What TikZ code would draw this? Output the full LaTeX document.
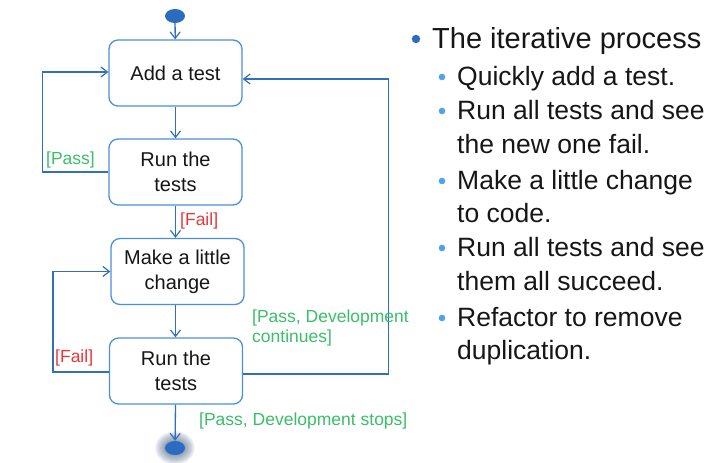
\documentclass[tikz,border=0pt]{standalone}
\usepackage{fontspec}
\setmainfont{Liberation Sans}
\usetikzlibrary{arrows.meta,positioning,calc,shapes.geometric}
\definecolor{boxline}{HTML}{4A90D9}
\definecolor{flow}{HTML}{3070B8}
\definecolor{dot}{HTML}{2B6CC0}
\definecolor{pass}{HTML}{3BBD6A}
\definecolor{fail}{HTML}{E8363A}
\definecolor{subdot}{HTML}{4DA3F0}
\definecolor{ink}{HTML}{161616}
\definecolor{halo}{HTML}{1E3A66}
\tikzset{
  >={Straight Barb[length=6.5pt,width=10pt,line width=1.2pt]},
  every node/.style={text=ink,inner sep=0pt},
  act/.style={draw=boxline,line width=1.3pt,rounded corners=9pt,fill=white,minimum width=133pt,minimum height=66pt,align=center,font=\fontsize{20}{25}\selectfont},
  flowarr/.style={->,line width=1.3pt,draw=flow},
  guard/.style={font=\fontsize{17.5}{20}\selectfont,align=left,anchor=west},
  passlbl/.style={guard,text=pass},
  faillbl/.style={guard,text=fail},
  startdot/.style={ellipse,fill=dot,minimum width=20pt,minimum height=14pt},
  head/.style={anchor=base west,font=\fontsize{29}{33}\selectfont},
  sub/.style={anchor=base west,font=\fontsize{26.5}{33.5}\selectfont},
}

\begin{document}
\begin{tikzpicture}[x=1pt,y=-1pt]
  \useasboundingbox (0,0) rectangle (713,463);

  % activity flow
  \node[startdot] (start) at (175,16) {};
  \node[act] (add) at (175.5,73) {Add a test};
  \node[act] (run1) at (175.5,172) {Run the\\tests};
  \node[act] (change) at (177.5,271.5) {Make a little\\change};
  \node[act] (run2) at (176,371) {Run the\\tests};
  \foreach \r in {1,...,9}
    \fill[halo,opacity=0.07] (175,448) ellipse ({9+\r*1.2} and {6+\r*1.2});
  \node[startdot] (stop) at (175,448) {};

  \draw[flowarr] (start) -- (add);
  \draw[flowarr] (add) -- (run1);
  \draw[flowarr] (run1) -- (change.north -| run1.south);
  \draw[flowarr] (change.south -| run1.south) -- (run2.north -| run1.south);
  \draw[flowarr] (run2.south -| run1.south) -- (stop);
  \draw[flowarr] (run1.west) -- ++(-66,0) |- ([yshift=1]add.west);
  \draw[flowarr] ([yshift=-1]run2.west) -- ++(-56,0) |- (change.west);
  \draw[flowarr] ([yshift=-3]run2.east) -- ++(145,0) |- ([yshift=-6]add.east);

  \node[passlbl] (passlbl) at (46,159.5) {[Pass]};
  \node[faillbl] (faillbl) at (180,220.5) {[Fail]};
  \node[faillbl] (faillbl2) at (55,358) {[Fail]};
  \node[passlbl] (contlbl) at (252,328) {[Pass, Development\\continues]};
  \node[passlbl] (stoplbl) at (199,420.5) {[Pass, Development stops]};

  % bullet list
  \fill[dot] (416,39) circle (4.2);
  \node[head] (title) at (432,48) {The iterative process};
  \foreach \y in {77,111,181,248,318}
    \fill[subdot] (442,\y) circle (3.3);
  \node[sub] (s1) at (457,85) {Quickly add a test.};
  \node[sub] (s2) at (457,119) {Run all tests and see};
  \node[sub] (s2b) at (457,153) {the new one fail.};
  \node[sub] (s3) at (457,189) {Make a little change};
  \node[sub] (s3b) at (457,222) {to code.};
  \node[sub] (s4) at (457,256) {Run all tests and see};
  \node[sub] (s4b) at (457,290) {them all succeed.};
  \node[sub] (s5) at (457,326) {Refactor to remove};
  \node[sub] (s5b) at (457,359) {duplication.};
\end{tikzpicture}
\end{document}
